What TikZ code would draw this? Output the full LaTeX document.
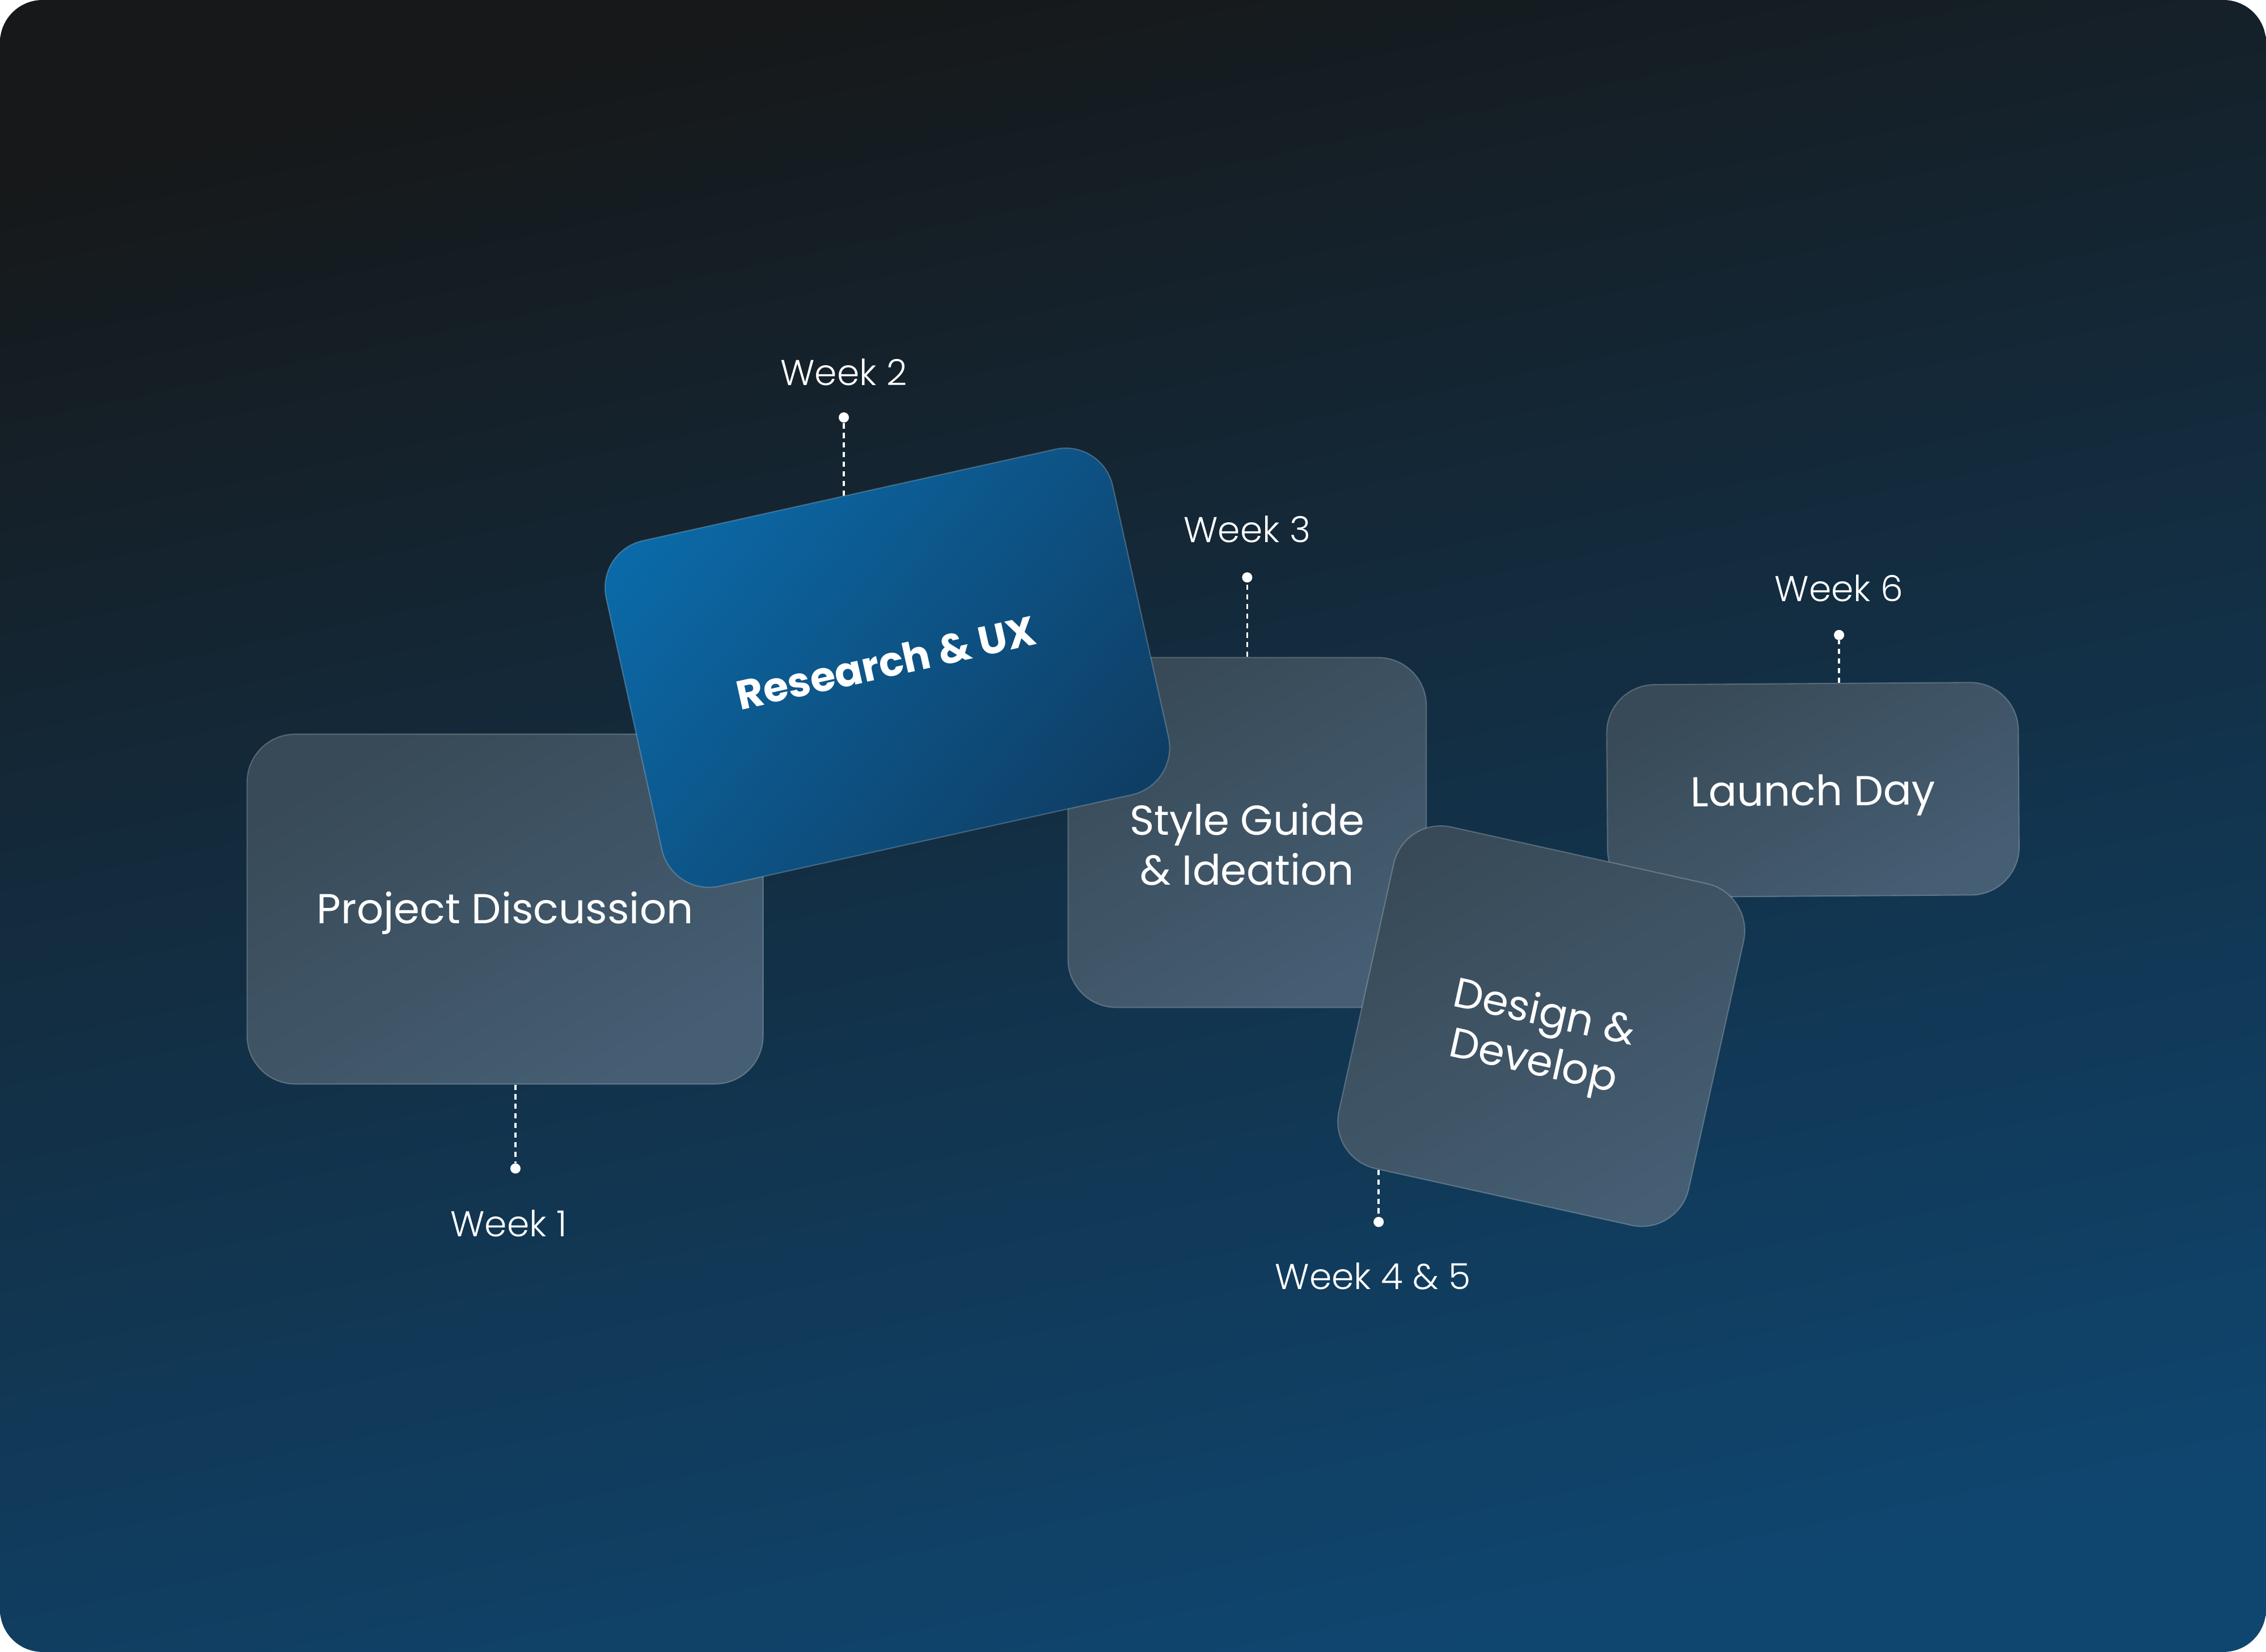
\documentclass[tikz,border=0pt]{standalone}
\usepackage{fontspec}
\setmainfont{Poppins}
\newfontfamily\lightfont{Poppins Light}
\usetikzlibrary{positioning,calc}

\definecolor{bgtop}{HTML}{161819}
\definecolor{bgbot}{HTML}{0F4670}
\definecolor{cardtop}{HTML}{384A57}
\definecolor{cardbot}{HTML}{455E73}
\definecolor{bluetop}{HTML}{0B69A7}
\definecolor{bluebot}{HTML}{0F3E65}

% card text, lowered a little inside its card
\newcommand\cardlines[2][0pt]{\raisebox{-#1}[\height][\depth]{\begin{tabular}{@{}c@{}}#2\end{tabular}}}

\begin{document}
\begin{tikzpicture}[
    x=0.025485cm, y=-0.025485cm,
    card/.style={rectangle, rounded corners=0.85cm, top color=cardtop, bottom color=cardbot, shading angle=30, draw=white, draw opacity=0.22, line width=0.6pt, text=white, inner sep=0pt, font=\fontsize{21}{25}\selectfont},
    bluecard/.style={card, top color=bluetop, bottom color=bluebot, shading angle=50, font=\fontsize{20.5}{24}\selectfont\bfseries},
    weeklbl/.style={text=white, inner sep=0pt, font=\lightfont\fontsize{18}{22}\selectfont},
    dot/.style={circle, fill=white, inner sep=0pt, minimum size=1.8mm},
    link/.style={white, line width=1pt, dash pattern=on 2.6pt off 2.2pt}
]

% background
\fill[white] (0,0) rectangle (1568,1143);
\shade[top color=bgtop, bottom color=bgbot, shading angle=12, rounded corners=0.75cm] (0,0) rectangle (1568,1143);

% cards, back to front
\node[card, minimum width=9.1cm, minimum height=6.17cm] (discuss) at (349.5,629) {\cardlines[2.2pt]{Project Discussion}};
\node[card, minimum width=6.32cm, minimum height=6.17cm] (style) at (863,576) {\cardlines[8.7pt]{Style Guide\\\& Ideation}};
\node[card, minimum width=7.26cm, minimum height=3.75cm, rotate=0.4] (launch) at (1254.5,546.5) {\cardlines[2.9pt]{Launch Day}};
\node[bluecard, minimum width=9.15cm, minimum height=6.24cm, rotate=12.5] (research) at (614,462) {\cardlines{Research \& UX}};
\node[card, minimum width=6.32cm, minimum height=6.17cm, rotate=-12.5] (design) at (1066.5,710) {\cardlines[7.2pt]{Design \&\\Develop}};

% week markers
\coordinate (p1) at ($(discuss.south west)!0.52!(discuss.south east)$);
\node[dot] (d1) at ($(p1)+(0,58)$) {};
\node[weeklbl, below=6.3mm of d1, xshift=-1.2mm] (w1) {Week 1};

\coordinate (p2) at ($(research.north west)!0.49!(research.north east)$);
\node[dot] (d2) at ($(p2)+(0,-54)$) {};
\node[weeklbl, above=4.6mm of d2] (w2) {Week 2};

\coordinate (p3) at (style.north);
\node[dot] (d3) at ($(p3)+(0,-55)$) {};
\node[weeklbl, above=5.1mm of d3] (w3) {Week 3};

\coordinate (p4) at ($(design.south)!0.71!(design.south west)$);
\node[dot] (d4) at ($(p4)+(0,36)$) {};
\node[weeklbl, below=6.2mm of d4, xshift=-1mm] (w4) {Week 4 \& 5};

\coordinate (p6) at ($(launch.north west)!0.565!(launch.north east)$);
\node[dot] (d6) at ($(p6)+(0,-33)$) {};
\node[weeklbl, above=4.8mm of d6] (w6) {Week 6};

\draw[link] (p1) -- (d1);
\draw[link] (p2) -- (d2);
\draw[link] (p3) -- (d3);
\draw[link] (p4) -- (d4);
\draw[link] (p6) -- (d6);

\end{tikzpicture}
\end{document}
